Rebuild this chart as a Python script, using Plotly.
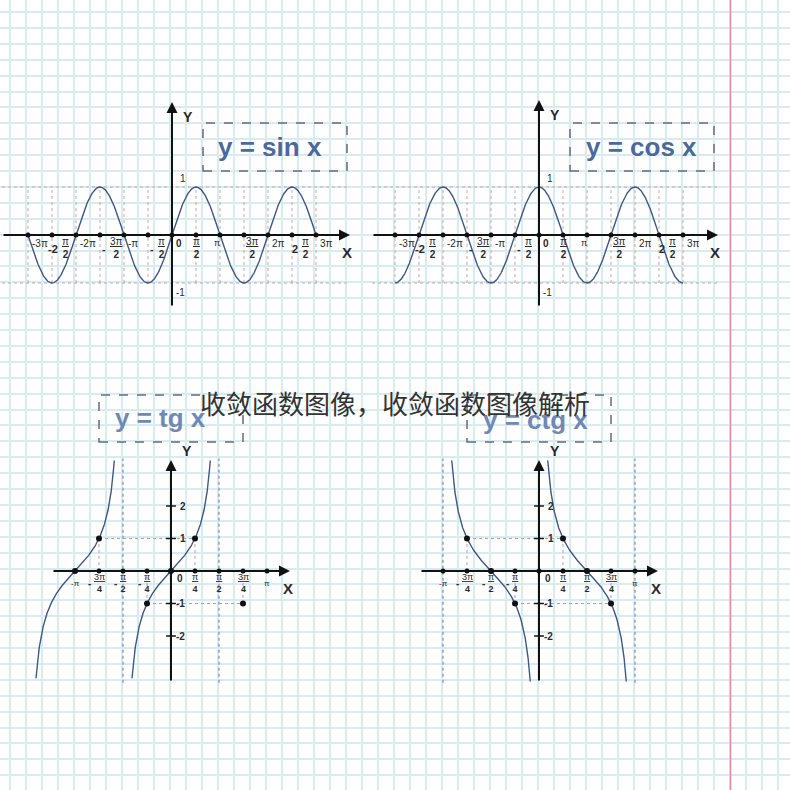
import numpy as np
import plotly.graph_objects as go

W = H = 790
PI = np.pi

# ---------------- data ----------------
half_steps = [-6, -5, -4, -3, -2, -1, 0, 1, 2, 3, 4, 5, 6]          # multiples of pi/2 (sin / cos)
sc_labels = [("", "-3π", None), ("-2", "π", "2"), ("", "-2π", None), ("-", "3π", "2"),
             ("", "-π", None), ("-", "π", "2"), ("", "0", None), ("", "π", "2"),
             ("", "π", None), ("", "3π", "2"), ("", "2π", None), ("2", "π", "2"), ("", "3π", None)]
quarter_steps = [-4, -3, -2, -1, 0, 1, 2, 3, 4]                    # multiples of pi/4 (tg / ctg)
tc_labels = [("", "-π", None), ("-", "3π", "4"), ("-", "π", "2"), ("-", "π", "4"),
             ("", "0", None), ("", "π", "4"), ("", "π", "2"), ("", "3π", "4"), ("", "π", None)]
sc_ylabels = [1, -1]
tc_ylabels = [2, 1, -1, -2]
tg_pts_q = [-4, -3, -1, 0, 1, 3]
tg_pts_y = [0, 1, -1, 0, 1, -1]
ctg_pts_q = [-3, -2, -1, 1, 2, 3]
ctg_pts_y = [1, 0, -1, 1, 0, -1]
tg_asym_q = [-2, 2]
ctg_asym_q = [-4, 4]
tg_ylim = (-3.3, 3.4)
ctg_ylim = (-3.4, 3.4)
titles = ["y = sin x", "y = cos x", "y = tg x", "y = ctg x"]
overlay_text = "收敛函数图像，收敛函数图像解析"

# ---------------- layout geometry (pixels) ----------------
panels = {
    2: dict(box=(0, 88, 362, 322), origin=(172, 235), sx=48 / PI, sy=48.0, xline=(2, 350), yline=(307, 102)),
    3: dict(box=(362, 88, 740, 322), origin=(539, 235), sx=48 / PI, sy=48.0, xline=(372, 718), yline=(307, 100)),
    4: dict(box=(20, 445, 320, 700), origin=(171, 571), sx=96 / PI, sy=32.5, xline=(52, 290), yline=(682, 460)),
    5: dict(box=(400, 445, 700, 700), origin=(539, 571), sx=96 / PI, sy=32.5, xline=(420, 658), yline=(682, 460)),
}
title_boxes = {2: (203, 123, 347, 171), 3: (570, 123, 714, 171), 4: (99, 395, 243, 442), 5: (467, 395, 611, 442)}
title_centers = {2: (270, 147), 3: (641, 147), 4: (160, 418), 5: (535, 420)}

FONT = "Liberation Sans, Arial, sans-serif"
CURVE = "#3d5884"
AXC = "#111111"
LBL = "#2a2a2a"


def dx(i, p):
    g = panels[i]
    return (p - g["origin"][0]) / g["sx"]


def dy(i, p):
    g = panels[i]
    return (g["origin"][1] - p) / g["sy"]


fig = go.Figure()
layout = dict(width=W, height=H, margin=dict(l=0, r=0, t=0, b=0), autosize=False,
              paper_bgcolor="white", plot_bgcolor="rgba(0,0,0,0)", showlegend=False)

# background graph paper
grid_x = [10 + 16.0 * k for k in range(50)]
grid_y = [12 + 15.9 * k for k in range(50)]
GRID = "#d9ebee"
layout["xaxis"] = dict(domain=[0, 1], range=[0, W], tickvals=grid_x, showgrid=True, gridcolor=GRID,
                       gridwidth=2, showticklabels=False, ticks="", zeroline=False, showline=False, fixedrange=True)
layout["yaxis"] = dict(domain=[0, 1], range=[H, 0], tickvals=grid_y, showgrid=True, gridcolor=GRID,
                       gridwidth=2, showticklabels=False, ticks="", zeroline=False, showline=False, fixedrange=True,
                       anchor="x")
fig.add_trace(go.Scatter(x=[None], y=[None], xaxis="x", yaxis="y", hoverinfo="skip"))

for i, g in panels.items():
    x0, y0, x1, y1 = g["box"]
    layout[f"xaxis{i}"] = dict(domain=[x0 / W, x1 / W], range=[dx(i, x0), dx(i, x1)], visible=False,
                               fixedrange=True, anchor=f"y{i}")
    layout[f"yaxis{i}"] = dict(domain=[1 - y1 / H, 1 - y0 / H], range=[dy(i, y1), dy(i, y0)], visible=False,
                               fixedrange=True, anchor=f"x{i}")

annotations = []
shapes = []


def seg_trace(i, xs, ys, color, width=1, dash="dot"):
    fig.add_trace(go.Scatter(x=xs, y=ys, mode="lines", xaxis=f"x{i}", yaxis=f"y{i}",
                             line=dict(color=color, width=width, dash=dash), hoverinfo="skip"))


def axes_arrows(i):
    g = panels[i]
    xr, yr = f"x{i}", f"y{i}"
    xa, xb = dx(i, g["xline"][0]), dx(i, g["xline"][1])
    ya, yb = dy(i, g["yline"][0]), dy(i, g["yline"][1])
    for (tx, ty, hx, hy) in [(xa, 0, xb, 0), (0, ya, 0, yb)]:
        annotations.append(dict(xref=xr, yref=yr, axref=xr, ayref=yr, x=hx, y=hy, ax=tx, ay=ty, text="",
                                showarrow=True, arrowhead=2, arrowsize=1.1, arrowwidth=2, arrowcolor=AXC,
                                standoff=0, startstandoff=0))


def ann(i, x, y, text, size=10, xanchor="center", yanchor="middle", xshift=0, yshift=0, bold=False, color=LBL):
    annotations.append(dict(xref=f"x{i}", yref=f"y{i}", x=x, y=y, text=(f"<b>{text}</b>" if bold else text),
                            showarrow=False, xanchor=xanchor, yanchor=yanchor, xshift=xshift, yshift=yshift,
                            font=dict(family=FONT, size=size, color=color)))


def frac(num, den):
    return f"<u>{num}</u><br><b>{den}</b>"


# ---------------- sin & cos ----------------
xs_sc = np.linspace(-3 * PI, 3 * PI, 900)
for i, fn in [(2, np.sin), (3, np.cos)]:
    xa, xb = dx(i, panels[i]["xline"][0]), dx(i, panels[i]["xline"][1])
    ticks = [k * PI / 2 for k in half_steps]
    vx, vy = [], []
    for t in ticks:
        if t != 0:
            vx += [t, t, None]
            vy += [-1, 1, None]
    seg_trace(i, vx, vy, "#c6a9a2", 1, "dot")
    seg_trace(i, [xa, xb, None, xa, xb], [1, 1, None, -1, -1], "#b7adad", 1, "dot")
    fig.add_trace(go.Scatter(x=xs_sc, y=fn(xs_sc), mode="lines", xaxis=f"x{i}", yaxis=f"y{i}",
                             line=dict(color=CURVE, width=1.4), hoverinfo="skip"))
    axes_arrows(i)
    fig.add_trace(go.Scatter(x=ticks, y=[0] * len(ticks), mode="markers", xaxis=f"x{i}", yaxis=f"y{i}",
                             marker=dict(color=AXC, size=5), hoverinfo="skip"))
    for k, t, (pre, num, den) in zip(half_steps, ticks, sc_labels):
        if den is None:
            if num == "π":
                ann(i, t, 0, num, 9, "center", "middle", -3, -8)
            else:
                ann(i, t, 0, num, 10, "left", "middle", 2, -8, bold=(num == "0"))
        else:
            if pre:
                ann(i, t, 0, pre, 11, "right", "middle", 8, -14, bold=True)
                ann(i, t, 0, frac(num, den), 10, "left", "middle", 8, -13)
            elif k == 1:
                ann(i, t, 0, frac(num, den), 10, "center", "middle", 0, -13)
            else:
                ann(i, t, 0, frac(num, den), 10, "left", "middle", 0, -13)
    ann(i, 0, 1, "1", 10, "left", "bottom", 6, 1)
    ann(i, 0, -1, "-1", 10, "left", "top", 2, -2)
    ann(i, 0, dy(i, panels[i]["yline"][1]), "Y", 14, "center", "middle", 16, -15, bold=True)
    ann(i, dx(i, panels[i]["xline"][1]), 0, "X", 15, "center", "middle", -3, -17, bold=True)

# ---------------- tg & ctg ----------------
for i in (4, 5):
    ticks = [q * PI / 4 for q in quarter_steps]
    g = panels[i]
    ya, yb = dy(i, g["yline"][0]), dy(i, g["yline"][1])
    if i == 4:
        lo, hi = tg_ylim
        branches = []
        for k in (-1, 0):
            x = np.linspace(np.arctan(lo) + k * PI, np.arctan(hi) + k * PI, 500)
            branches.append((x, np.tan(x)))
        asym = [q * PI / 4 for q in tg_asym_q]
        pq, py_ = tg_pts_q, tg_pts_y
    else:
        lo, hi = ctg_ylim
        e = np.arctan(1 / hi)
        branches = []
        for k in (-1, 0):
            x = np.linspace(e + k * PI, PI - e + k * PI, 500)
            branches.append((x, 1 / np.tan(x)))
        asym = [q * PI / 4 for q in ctg_asym_q]
        pq, py_ = ctg_pts_q, ctg_pts_y
    ax_, ay_ = [], []
    for a in asym:
        ax_ += [a, a, None]
        ay_ += [ya - 0.02, yb + 0.05, None]
    seg_trace(i, ax_, ay_, "#7d8ca6", 1.2, "dot")
    px_ = [q * PI / 4 for q in pq]
    gx, gy = [], []
    ones = [x for x, y in zip(px_, py_) if y == 1]
    mones = [x for x, y in zip(px_, py_) if y == -1]
    for grp, v in ((ones, 1), (mones, -1)):
        gx += [min(grp), max(grp), None]
        gy += [v, v, None]
        for x in grp:
            gx += [x, x, None]
            gy += [0, v, None]
    seg_trace(i, gx, gy, "#a8a4a4", 1, "dot")
    for bx, by in branches:
        fig.add_trace(go.Scatter(x=bx, y=by, mode="lines", xaxis=f"x{i}", yaxis=f"y{i}",
                                 line=dict(color=CURVE, width=1.4), hoverinfo="skip"))
    axes_arrows(i)
    fig.add_trace(go.Scatter(x=ticks, y=[0] * len(ticks), mode="markers", xaxis=f"x{i}", yaxis=f"y{i}",
                             marker=dict(color=AXC, size=5), hoverinfo="skip"))
    fig.add_trace(go.Scatter(x=[0] * len(tc_ylabels), y=tc_ylabels, mode="markers", xaxis=f"x{i}", yaxis=f"y{i}",
                             marker=dict(symbol="line-ew", size=7, line=dict(color=AXC, width=1.5)),
                             hoverinfo="skip"))
    fig.add_trace(go.Scatter(x=px_, y=py_, mode="markers", xaxis=f"x{i}", yaxis=f"y{i}",
                             marker=dict(color=AXC, size=6), hoverinfo="skip"))
    for q, t, (pre, num, den) in zip(quarter_steps, ticks, tc_labels):
        if den is None:
            if num == "0":
                ann(i, t, 0, num, 10, "left", "middle", 4, -7, bold=True)
            else:
                ann(i, t, 0, num, 8, "center", "middle", 0, -12)
        else:
            ann(i, t, 0, frac(num, den), 9, "center", "middle", 0, -12)
            if pre:
                ann(i, t, 0, pre, 10, "right", "middle", -4 if num == "π" else -6, -12, bold=True)
    for v in tc_ylabels:
        ann(i, 0, v, str(v), 10, "left", "middle", 7 if v > 0 else 3, 0, bold=True)
    ann(i, 0, yb, "Y", 14, "center", "middle", 16, 9, bold=True)
    ann(i, dx(i, g["xline"][1]), 0, "X", 15, "center", "middle", -2, -17, bold=True)

# ---------------- titles ----------------
for i, t in zip((2, 3, 4, 5), titles):
    x0, y0, x1, y1 = title_boxes[i]
    shapes.append(dict(type="rect", xref="paper", yref="paper", x0=x0 / W, x1=x1 / W, y0=1 - y1 / H,
                       y1=1 - y0 / H, line=dict(color="#5d6d84", width=1.5, dash="dash"), layer="above"))
    cx, cy = title_centers[i]
    annotations.append(dict(xref="paper", yref="paper", x=cx / W, y=1 - cy / H, text=f"<b>{t}</b>",
                            showarrow=False, xanchor="center", yanchor="middle",
                            font=dict(family=FONT, size=26, color="#4a6a9c" if i < 4 else "#7089b3")))

# red margin line
shapes.append(dict(type="line", xref="paper", yref="paper", x0=730.5 / W, x1=730.5 / W, y0=0, y1=1,
                   line=dict(color="#e58ca0", width=1.5), layer="above"))

# overlay caption
annotations.append(dict(xref="paper", yref="paper", x=395 / W, y=1 - 402 / H, text=overlay_text, showarrow=False,
                        xanchor="center", yanchor="middle",
                        font=dict(family="Noto Sans CJK SC", size=26, color="#333333")))

layout["annotations"] = annotations
layout["shapes"] = shapes
fig.update_layout(**layout)

fig.write_html("out.html", config={"displayModeBar": False},
               post_script="document.body.style.margin='0';")
